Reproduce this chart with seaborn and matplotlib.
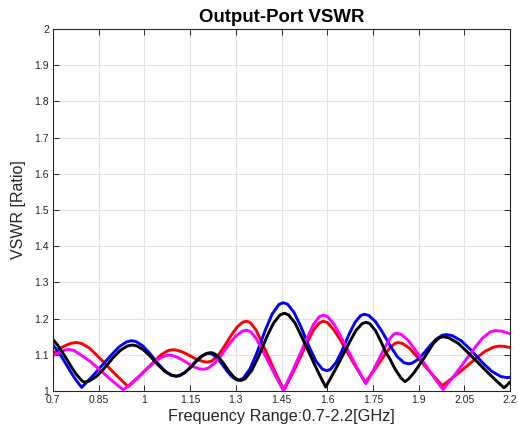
import numpy as np
import pandas as pd
import matplotlib
matplotlib.use("Agg")
import matplotlib.pyplot as plt
import matplotlib.ticker as mticker
import seaborn as sns

# ---- data ----
black_x = [0.70, 0.715, 0.73, 0.745, 0.76, 0.775, 0.79, 0.797, 0.803,
           0.8187, 0.8423, 0.8658, 0.8815, 0.8972, 0.9208, 0.9443, 0.96,
           0.9744, 0.996, 1.0176, 1.032, 1.0464, 1.068, 1.0896, 1.104,
           1.1154, 1.1325, 1.1496, 1.161, 1.1724, 1.1895, 1.2066, 1.218,
           1.2278, 1.2425, 1.2572, 1.267, 1.2768, 1.2915, 1.3062, 1.316,
           1.3304, 1.352, 1.3736, 1.388, 1.4024, 1.424, 1.4456, 1.46,
           1.4735, 1.4938, 1.514, 1.5275, 1.541, 1.5613, 1.5815, 1.595,
           1.6082, 1.628, 1.6478, 1.661, 1.6742, 1.694, 1.7138, 1.727,
           1.7398, 1.759, 1.7782, 1.791, 1.8038, 1.823, 1.8422, 1.855,
           1.8675, 1.8863, 1.905, 1.9175, 1.93, 1.9488, 1.9675, 1.98,
           2.0, 2.03, 2.06, 2.08, 2.10, 2.13, 2.16, 2.18, 2.19, 2.20]
black_y = [1.142, 1.127, 1.108, 1.088, 1.067, 1.048, 1.033, 1.027, 1.025,
           1.0274, 1.0399, 1.0602, 1.076, 1.0918, 1.1121, 1.1245, 1.127,
           1.1249, 1.1144, 1.0973, 1.084, 1.0707, 1.0536, 1.0431, 1.041,
           1.0426, 1.0505, 1.0634, 1.0735, 1.0836, 1.0965, 1.1044, 1.106,
           1.1042, 1.0948, 1.0794, 1.0675, 1.0556, 1.0402, 1.0308, 1.029,
           1.0335, 1.0562, 1.0932, 1.122, 1.1508, 1.1878, 1.2105, 1.215,
           1.2099, 1.1885, 1.1538, 1.1293, 1.1048, 1.0681, 1.0334, 1.011,
           1.0307, 1.0611, 1.0933, 1.1148, 1.1363, 1.1667, 1.1855, 1.190,
           1.1861, 1.1661, 1.1334, 1.108, 1.0916, 1.0604, 1.0358, 1.026,
           1.0334, 1.052, 1.0756, 1.0905, 1.1072, 1.1319, 1.147, 1.150,
           1.1465, 1.1317, 1.1077, 1.0908, 1.0739, 1.0485, 1.0245, 1.009, 1.016, 1.025]

blue_x = [0.70, 0.715, 0.73, 0.745, 0.76, 0.775, 0.785, 0.794,
          0.8104, 0.835, 0.8596, 0.876, 0.8924, 0.917, 0.9416, 0.958,
          0.9726, 0.9945, 1.0164, 1.031, 1.0456, 1.0675, 1.0894, 1.104,
          1.1148, 1.131, 1.1472, 1.158, 1.1688, 1.185, 1.2012, 1.212,
          1.2218, 1.2365, 1.2512, 1.261, 1.2708, 1.2855, 1.3002, 1.31,
          1.3246, 1.3465, 1.3684, 1.383, 1.3976, 1.4195, 1.4414, 1.456,
          1.4702, 1.4915, 1.5128, 1.527, 1.5412, 1.5625, 1.5838, 1.598,
          1.6104, 1.629, 1.6476, 1.66, 1.6724, 1.691, 1.7096, 1.722,
          1.7364, 1.758, 1.7796, 1.794, 1.8084, 1.83, 1.8516, 1.866,
          1.8784, 1.897, 1.9156, 1.928, 1.9404, 1.959, 1.9776, 1.99,
          2.01, 2.04, 2.07, 2.09, 2.11, 2.14, 2.17, 2.19, 2.20]
blue_y = [1.127, 1.111, 1.092, 1.071, 1.050, 1.031, 1.020, 1.010,
          1.0242, 1.0461, 1.0693, 1.0848, 1.1003, 1.1222, 1.1358, 1.139,
          1.1366, 1.1247, 1.1052, 1.09, 1.0748, 1.0553, 1.0434, 1.041,
          1.0425, 1.0502, 1.0627, 1.0725, 1.0823, 1.0948, 1.1025, 1.104,
          1.1022, 1.0932, 1.0785, 1.067, 1.0555, 1.0408, 1.0318, 1.030,
          1.0351, 1.0612, 1.1038, 1.137, 1.1702, 1.2128, 1.2389, 1.244,
          1.2395, 1.2165, 1.1791, 1.15, 1.1209, 1.0834, 1.0605, 1.056,
          1.0597, 1.0788, 1.1098, 1.134, 1.1582, 1.1892, 1.2083, 1.212,
          1.2087, 1.192, 1.1647, 1.1435, 1.1223, 1.095, 1.0783, 1.075,
          1.0769, 1.0868, 1.1029, 1.1155, 1.1281, 1.1442, 1.154, 1.156,
          1.1531, 1.1386, 1.1149, 1.0965, 1.0781, 1.0544, 1.0399, 1.037, 1.038]

red_x = [0.70, 0.715, 0.73, 0.745, 0.76, 0.778,
         0.7949, 0.8203, 0.8456, 0.8625, 0.8794, 0.9048, 0.9301, 0.947,
         0.9615, 0.9833, 1.005, 1.0195, 1.034, 1.0558, 1.0775, 1.092,
         1.1036, 1.121, 1.1384, 1.15, 1.1616, 1.179, 1.1964, 1.208,
         1.2208, 1.24, 1.2592, 1.272, 1.2848, 1.304, 1.3232, 1.336,
         1.3482, 1.3665, 1.3848, 1.397, 1.4092, 1.4275, 1.4458, 1.458,
         1.4709, 1.4903, 1.5096, 1.5225, 1.5354, 1.5548, 1.5741, 1.587,
         1.6008, 1.6215, 1.6422, 1.656, 1.6698, 1.6905, 1.7112, 1.725,
         1.7358, 1.752, 1.7682, 1.779, 1.7898, 1.806, 1.8222, 1.833,
         1.8475, 1.8693, 1.891, 1.9055, 1.92, 1.9418, 1.9635, 1.978,
         1.9967, 2.0248, 2.0528, 2.0715, 2.0902, 2.1183, 2.1463, 2.165,
         2.18, 2.20]
red_y = [1.104, 1.113, 1.121, 1.127, 1.132, 1.134,
         1.131, 1.1181, 1.0974, 1.0828, 1.0681, 1.0462, 1.0254, 1.012,
         1.0232, 1.0406, 1.0589, 1.0712, 1.0834, 1.1007, 1.1115, 1.114,
         1.1132, 1.109, 1.1023, 1.097, 1.0917, 1.085, 1.0808, 1.080,
         1.0827, 1.0965, 1.119, 1.1365, 1.154, 1.1765, 1.1903, 1.193,
         1.1882, 1.1682, 1.1357, 1.1128, 1.0899, 1.0555, 1.023, 1.002,
         1.023, 1.0555, 1.0899, 1.1128, 1.1357, 1.1682, 1.1882, 1.193,
         1.1888, 1.169, 1.1423, 1.122, 1.1017, 1.0713, 1.0426, 1.024,
         1.0361, 1.0548, 1.0746, 1.0878, 1.101, 1.1197, 1.1313, 1.134,
         1.131, 1.1185, 1.0983, 1.084, 1.0697, 1.0483, 1.0281, 1.015,
         1.027, 1.0455, 1.0651, 1.0782, 1.0913, 1.1098, 1.1213, 1.124,
         1.1235, 1.120]

magenta_x = [0.70, 0.715, 0.73, 0.74, 0.75,
             0.7681, 0.7953, 0.8224, 0.8405, 0.8586, 0.8858, 0.9129, 0.931,
             0.9459, 0.9683, 0.9906, 1.0055, 1.0204, 1.0428, 1.0651, 1.08,
             1.0914, 1.1085, 1.1256, 1.137, 1.1484, 1.1655, 1.1826, 1.194,
             1.2082, 1.2293, 1.2508, 1.265, 1.2792, 1.3005, 1.3218, 1.336,
             1.348, 1.366, 1.384, 1.396, 1.408, 1.426, 1.444, 1.456,
             1.4691, 1.4888, 1.5084, 1.5215, 1.5346, 1.5543, 1.5739, 1.587,
             1.601, 1.622, 1.643, 1.657, 1.671, 1.692, 1.713, 1.727,
             1.7371, 1.7523, 1.7674, 1.7775, 1.7876, 1.8028, 1.8179, 1.828,
             1.8432, 1.866, 1.8888, 1.904, 1.9192, 1.942, 1.9648, 1.98,
             1.9972, 2.023, 2.0488, 2.066, 2.0832, 2.109, 2.1348, 2.152,
             2.175, 2.20]
magenta_y = [1.097, 1.104, 1.110, 1.113, 1.115,
             1.1122, 1.0974, 1.0814, 1.068, 1.0545, 1.0344, 1.0153, 1.003,
             1.0136, 1.0299, 1.0472, 1.0587, 1.0702, 1.0865, 1.0966, 1.099,
             1.0981, 1.0933, 1.0855, 1.0795, 1.0735, 1.0657, 1.0609, 1.060,
             1.0626, 1.0758, 1.0973, 1.114, 1.1307, 1.1522, 1.1654, 1.168,
             1.1639, 1.1464, 1.1182, 1.0983, 1.0784, 1.0485, 1.0203, 1.002,
             1.0249, 1.0602, 1.0977, 1.1226, 1.1476, 1.183, 1.2048, 1.210,
             1.2053, 1.1853, 1.153, 1.1302, 1.1074, 1.0732, 1.0409, 1.020,
             1.0354, 1.0592, 1.0844, 1.1012, 1.118, 1.1418, 1.1565, 1.160,
             1.1561, 1.1397, 1.1132, 1.0945, 1.0758, 1.0477, 1.0212, 1.004,
             1.0219, 1.0496, 1.079, 1.0985, 1.1181, 1.1458, 1.1629, 1.167,
             1.165, 1.158]

series_colors = {"black": "#000000", "red": "#ff0000", "blue": "#0000ff", "magenta": "#ff00ff"}

x_ticks = [0.7, 0.85, 1.0, 1.15, 1.3, 1.45, 1.6, 1.75, 1.9, 2.05, 2.2]
y_ticks = [1.0, 1.1, 1.2, 1.3, 1.4, 1.5, 1.6, 1.7, 1.8, 1.9, 2.0]

frames = []
for name, xs, ys in [("black", black_x, black_y), ("red", red_x, red_y),
                     ("blue", blue_x, blue_y), ("magenta", magenta_x, magenta_y)]:
    frames.append(pd.DataFrame({"freq": xs, "vswr": ys, "series": name}))
df = pd.concat(frames, ignore_index=True)

sns.set_theme(style="whitegrid")
plt.rcParams["font.family"] = ["Liberation Sans", "DejaVu Sans"]

fig = plt.figure(figsize=(5.18, 4.36), dpi=100)
ax = fig.add_axes([0.1023, 0.1032, 0.8823, 0.8303])
ax.set_facecolor("white")

sns.lineplot(data=df, x="freq", y="vswr", hue="series",
             hue_order=["red", "blue", "magenta", "black"],
             palette=series_colors, linewidth=2.1, legend=False, ax=ax,
             estimator=None, sort=True, solid_joinstyle="round", solid_capstyle="round")

ax.set_xlim(0.7, 2.2)
ax.set_ylim(1.0, 2.0)
ax.set_xticks(x_ticks)
ax.set_yticks(y_ticks)
fmt = mticker.FuncFormatter(lambda v, p: f"{v:g}")
ax.xaxis.set_major_formatter(fmt)
ax.yaxis.set_major_formatter(fmt)

ax.grid(True, color="#e2e2e2", linewidth=0.8)
for s in ax.spines.values():
    s.set_visible(True)
    s.set_color("#262626")
    s.set_linewidth(0.8)
ax.tick_params(axis="both", which="major", direction="in", length=4, width=0.7,
               color="#262626", labelsize=7.5, labelcolor="#262626",
               top=True, right=True, bottom=True, left=True, pad=3)

ax.set_title("Output-Port VSWR", fontsize=13.4, fontweight="bold", color="black", pad=5)
ax.set_xlabel("Frequency Range:0.7-2.2[GHz]", fontsize=11.7, color="#262626", labelpad=3)
ax.set_ylabel("VSWR [Ratio]", fontsize=11.5, color="#262626", labelpad=6)

fig.savefig("out.png", dpi=100, facecolor="white")
